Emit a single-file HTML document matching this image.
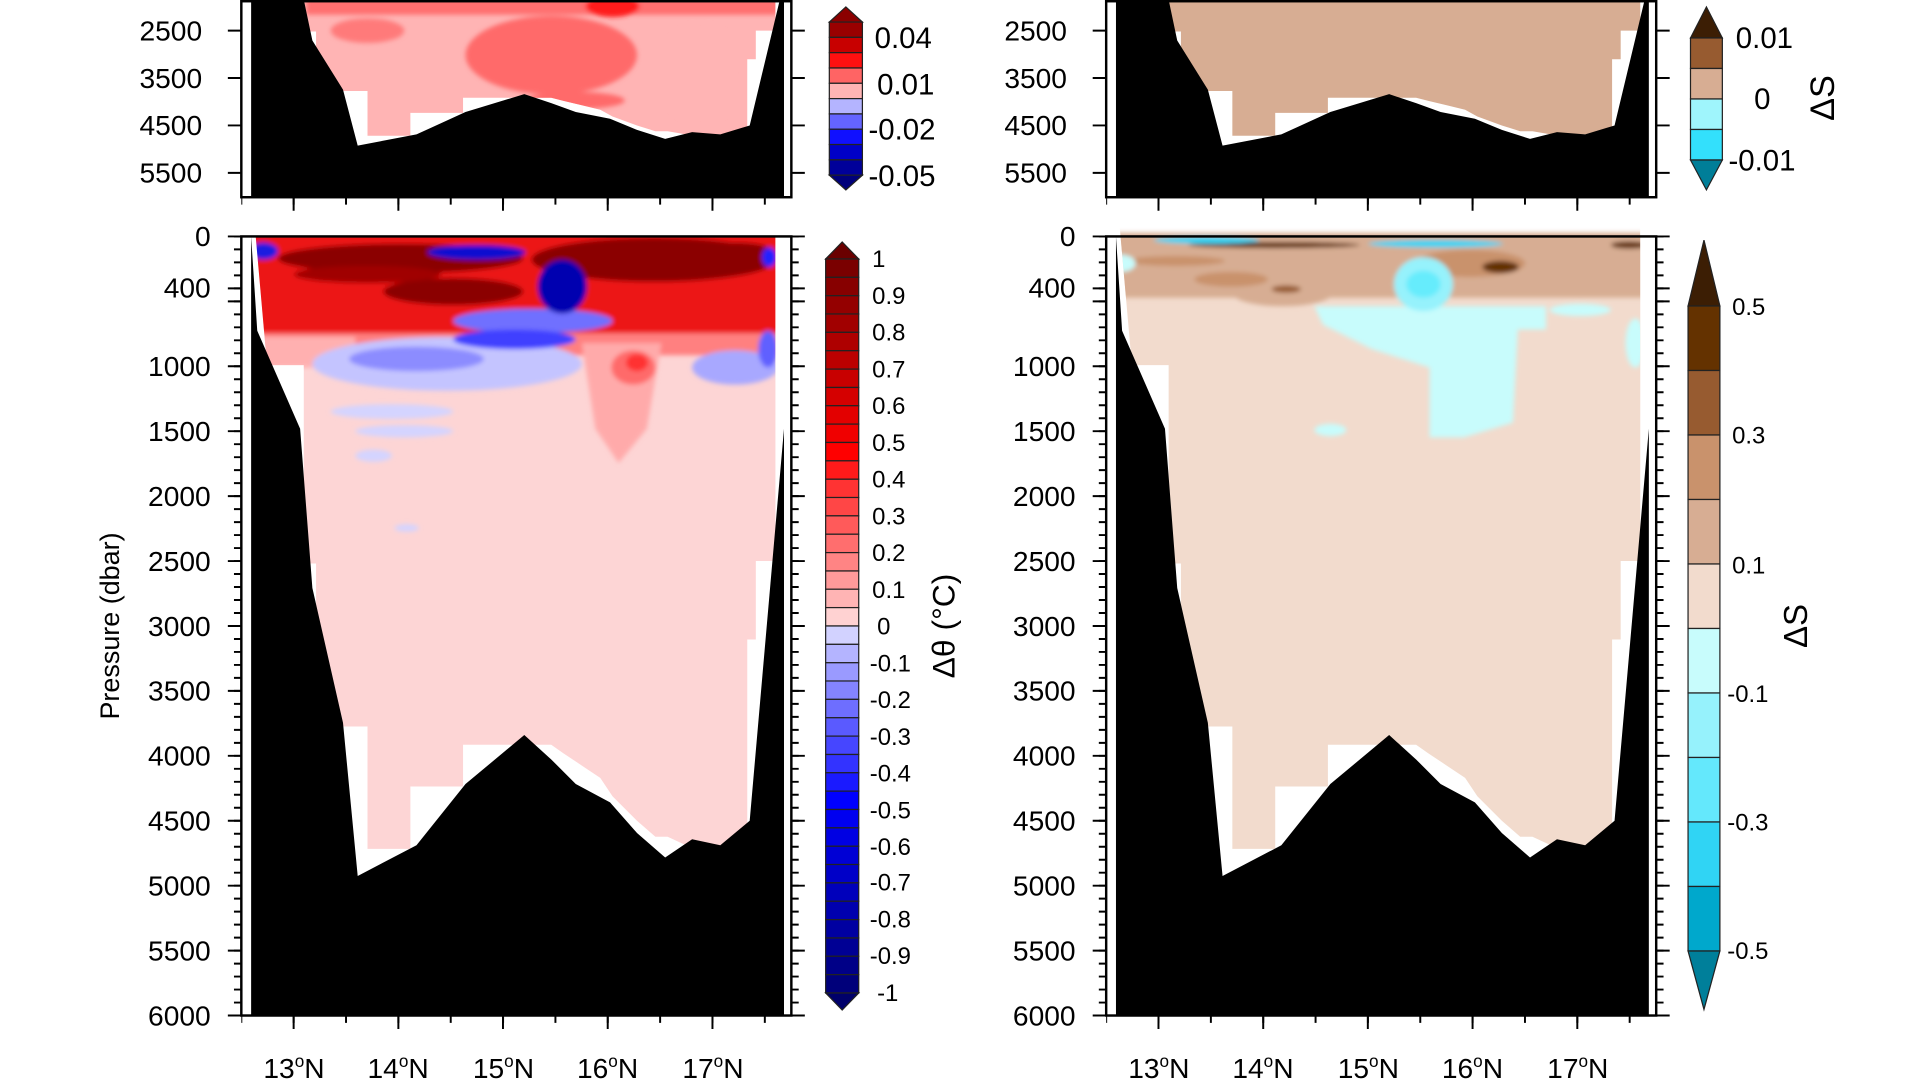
<!DOCTYPE html>
<html><head><meta charset="utf-8"><style>
html,body{margin:0;padding:0;background:#fff;width:1920px;height:1080px;overflow:hidden}
svg{display:block}
text{font-family:"Liberation Sans",Arial,sans-serif;fill:#000}
</style></head><body>
<svg width="1920" height="1080" viewBox="0 0 1567.35 881.63" preserveAspectRatio="none" xmlns="http://www.w3.org/2000/svg">
<defs>
<path id="bathy" d="M205,0 L210,726 L245,1481 L255,2708 L280,3745 L292,4925 L340,4689 L380,4217 L428,3840 L450,4028 L470,4217 L498,4358 L520,4594 L543,4783 L565,4642 L588,4689 L612,4500 L640,1481 L640,6800 L205,6800 Z"/>
<path id="data" d="M205,-400 L633,-400 L633,2500 L617,2500 L617,3104 L610,3104 L610,4689 L560,4689 L545,4623 L535,4623 L520,4500 L500,4311 L490,4170 L475,4075 L460,3981 L450,3915 L378,3915 L378,4236 L335,4236 L335,4717 L300,4717 L300,3774 L258,3774 L258,2519 L248,2519 L248,991 L218,991 Z"/>
<clipPath id="cb"><rect x="197" y="193" width="449" height="636"/></clipPath>
<clipPath id="ct"><rect x="197" y="1" width="449" height="160"/></clipPath>
<clipPath id="cbd"><use href="#data" transform="matrix(1 0 0 0.106 0 193)"/></clipPath>
<clipPath id="cbd2"><use href="#data" transform="matrix(1 0 0 0.106 706 193)"/></clipPath>
<clipPath id="ctd"><use href="#data" transform="matrix(1 0 0 0.0387 0 -71.75)"/></clipPath>
<filter id="bl" x="-10%" y="-10%" width="120%" height="120%"><feGaussianBlur stdDeviation="2"/></filter>
</defs>

<!-- ===== Bottom-left ===== -->
<g clip-path="url(#cb)">
<use href="#data" transform="matrix(1 0 0 0.106 0 193)" fill="#fdd5d5"/>
<g clip-path="url(#cbd)"><g filter="url(#bl)">
<rect x="200" y="190" width="440" height="85" fill="#ec1212"/>
<rect x="200" y="272" width="440" height="18" fill="#ff8080"/>
<rect x="205" y="275" width="85" height="25" fill="#ffb0b0"/>
<ellipse cx="327" cy="211" rx="100" ry="12" fill="#8b0000"/>
<ellipse cx="370" cy="238" rx="57" ry="11" fill="#8b0000"/>
<ellipse cx="300" cy="224" rx="60" ry="7" fill="#a00000"/>
<ellipse cx="534" cy="212" rx="100" ry="18" fill="#8b0000"/>
<ellipse cx="600" cy="206" rx="33" ry="8" fill="#8b0000"/>
<ellipse cx="389" cy="206" rx="40" ry="6" fill="#1010d0"/>
<ellipse cx="215" cy="205" rx="12" ry="7" fill="#1a1ae0"/>
<ellipse cx="628" cy="210" rx="6" ry="8" fill="#2020ff"/>
<ellipse cx="365" cy="297" rx="110" ry="22" fill="#c4c4ff"/>
<ellipse cx="340" cy="293" rx="55" ry="10" fill="#8c8cff"/>
<ellipse cx="435" cy="262" rx="65" ry="10" fill="#7070ff"/>
<ellipse cx="420" cy="277" rx="50" ry="8" fill="#4040ff"/>
<ellipse cx="459" cy="234" rx="20" ry="22" fill="#0000b0"/>
<ellipse cx="600" cy="300" rx="35" ry="14" fill="#a8a8ff"/>
<ellipse cx="627" cy="285" rx="8" ry="15" fill="#6060ff"/>
<polygon points="475,280 540,280 528,350 505,378 486,350" fill="#ffaaaa"/>
<ellipse cx="517" cy="300" rx="18" ry="14" fill="#ff6a6a"/>
<ellipse cx="520" cy="296" rx="9" ry="7" fill="#ff3030"/>
<ellipse cx="320" cy="336" rx="50" ry="6" fill="#d4d4ff"/>
<ellipse cx="330" cy="352" rx="40" ry="5" fill="#d4d4ff"/>
<ellipse cx="305" cy="372" rx="15" ry="5" fill="#d4d4ff"/>
<ellipse cx="332" cy="431" rx="10" ry="3" fill="#d4d4ff"/>
</g></g>
<use href="#bathy" transform="matrix(1 0 0 0.106 0 193)" fill="#000"/>
</g>

<!-- ===== Top-left ===== -->
<g clip-path="url(#ct)">
<use href="#data" transform="matrix(1 0 0 0.0387 0 -71.75)" fill="#ffb4b4"/>
<g clip-path="url(#ctd)"><g filter="url(#bl)">
<rect x="250" y="-5" width="385" height="17" fill="#ff7070"/>
<ellipse cx="450" cy="45" rx="70" ry="32" fill="#ff6a6a"/>
<ellipse cx="470" cy="82" rx="40" ry="7" fill="#ff6a6a"/>
<ellipse cx="300" cy="25" rx="30" ry="10" fill="#ff7a7a"/>
<ellipse cx="500" cy="5" rx="22" ry="9" fill="#ff1c1c"/>
<ellipse cx="572" cy="60" rx="35" ry="40" fill="#ffb4b4"/>
</g></g>
<use href="#bathy" transform="matrix(1 0 0 0.0387 0 -71.75)" fill="#000"/>
</g>

<!-- ===== Bottom-right ===== -->
<g transform="translate(706 0)">
<g clip-path="url(#cb)">
<use href="#data" transform="matrix(1 0 0 0.106 0 193)" fill="#f2dbcd"/>
</g>
</g>
<g clip-path="url(#cbd2)"><g filter="url(#bl)">
<rect x="905" y="190" width="440" height="53" fill="#d7ad93"/>
<ellipse cx="1047" cy="240" rx="40" ry="10" fill="#d7ad93"/>
<ellipse cx="960" cy="213" rx="40" ry="4" fill="#c9926c"/>
<ellipse cx="1005" cy="228" rx="30" ry="6" fill="#c9926c"/>
<ellipse cx="1050" cy="236" rx="12" ry="3" fill="#975b30"/>
<ellipse cx="1200" cy="215" rx="45" ry="11" fill="#c9926c"/>
<ellipse cx="1040" cy="200" rx="70" ry="2.5" fill="#643200"/>
<ellipse cx="1225" cy="218" rx="15" ry="5" fill="#643200"/>
<ellipse cx="1330" cy="200" rx="15" ry="3" fill="#643200"/>
<ellipse cx="985" cy="196" rx="43" ry="3" fill="#30d4f4"/>
<ellipse cx="1172" cy="199" rx="55" ry="3" fill="#30d4f4"/>
<polygon points="1073,250 1262,250 1262,269 1239,269 1235,345 1195,357 1167,357 1167,300 1120,285 1080,265" fill="#c8fcfc"/>
<ellipse cx="1162" cy="232" rx="24" ry="22" fill="#96f2fc"/>
<ellipse cx="1162" cy="232" rx="14" ry="11" fill="#66ecfc"/>
<ellipse cx="1086" cy="351" rx="13" ry="5" fill="#c8fcfc"/>
<ellipse cx="1335" cy="280" rx="8" ry="20" fill="#c8fcfc"/>
<ellipse cx="915" cy="215" rx="12" ry="7" fill="#c8fcfc"/>
<ellipse cx="1290" cy="253" rx="25" ry="5" fill="#c8fcfc"/>
</g></g>
<g transform="translate(706 0)">
<g clip-path="url(#cb)">
<use href="#bathy" transform="matrix(1 0 0 0.106 0 193)" fill="#000"/>
</g>
<g clip-path="url(#ct)">
<use href="#data" transform="matrix(1 0 0 0.0387 0 -71.75)" fill="#d7ad93"/>
<use href="#bathy" transform="matrix(1 0 0 0.0387 0 -71.75)" fill="#000"/>
</g>
</g>

<!-- ===== Axes (static) ===== -->
<g id="axL" fill="none" stroke="#000">
<rect x="197" y="193" width="449" height="636" stroke-width="2"/>
<rect x="197" y="1" width="449" height="160" stroke-width="2"/>
<!-- minor y ticks -->
<line x1="194" y1="193" x2="194" y2="830" stroke-width="6" stroke-dasharray="1.6 9" stroke-dashoffset="0.8"/>
<line x1="649" y1="193" x2="649" y2="830" stroke-width="6" stroke-dasharray="1.6 9" stroke-dashoffset="0.8"/>
<!-- major y ticks -->
<path stroke-width="1.6" d="M186,193H197M186,235.4H197M186,246H197M186,299H197M186,352H197M186,405H197M186,458H197M186,511H197M186,564H197M186,617H197M186,670H197M186,723H197M186,776H197M186,829H197
M646,193H657M646,235.4H657M646,246H657M646,299H657M646,352H657M646,405H657M646,458H657M646,511H657M646,564H657M646,617H657M646,670H657M646,723H657M646,776H657M646,829H657
M186,25H197M186,63.7H197M186,102.4H197M186,141.1H197M646,25H657M646,63.7H657M646,102.4H657M646,141.1H657
M239.7,829V840M325.2,829V840M410.6,829V840M496.1,829V840M581.6,829V840
M239.7,161V172M325.2,161V172M410.6,161V172M496.1,161V172M581.6,161V172"/>
<!-- minor x ticks -->
<line x1="197" y1="832" x2="647" y2="832" stroke-width="6" stroke-dasharray="1.6 41.135" stroke-dashoffset="0.8"/>
<line x1="197" y1="164" x2="647" y2="164" stroke-width="6" stroke-dasharray="1.6 41.135" stroke-dashoffset="0.8"/>
</g>
<use href="#axL" transform="translate(706 0)"/>

<!-- ===== Colorbars ===== -->
<g stroke="#222" stroke-width="1">
<polygon points="674,211.4 687.5,197.6 701,211.4" fill="#6a0000"/>
<g transform="translate(674 0)">
<rect y="211.4" width="27" height="15" fill="#7a0000"/><rect y="226.4" width="27" height="15" fill="#870000"/><rect y="241.4" width="27" height="15" fill="#940000"/><rect y="256.3" width="27" height="15" fill="#a10000"/><rect y="271.3" width="27" height="15" fill="#ae0000"/><rect y="286.3" width="27" height="15" fill="#bb0000"/><rect y="301.3" width="27" height="15" fill="#c80000"/><rect y="316.3" width="27" height="15" fill="#d50000"/><rect y="331.2" width="27" height="15" fill="#e30000"/><rect y="346.2" width="27" height="15" fill="#f00000"/>
<rect y="361.2" width="27" height="15" fill="#ff0000"/><rect y="376.2" width="27" height="15" fill="#ff1a1a"/><rect y="391.2" width="27" height="15" fill="#ff3333"/><rect y="406.1" width="27" height="15" fill="#ff4646"/><rect y="421.1" width="27" height="15" fill="#ff5a5a"/><rect y="436.1" width="27" height="15" fill="#ff6e6e"/><rect y="451.1" width="27" height="15" fill="#ff8484"/><rect y="466.1" width="27" height="15" fill="#ff9a9a"/><rect y="481.0" width="27" height="15" fill="#ffb4b4"/><rect y="496.0" width="27" height="15" fill="#ffd2d2"/>
<rect y="511.0" width="27" height="15" fill="#d2d2ff"/><rect y="526.0" width="27" height="15" fill="#b4b4ff"/><rect y="541.0" width="27" height="15" fill="#9a9aff"/><rect y="555.9" width="27" height="15" fill="#8484ff"/><rect y="570.9" width="27" height="15" fill="#6e6eff"/><rect y="585.9" width="27" height="15" fill="#5a5aff"/><rect y="600.9" width="27" height="15" fill="#4646ff"/><rect y="615.9" width="27" height="15" fill="#3333ff"/><rect y="630.8" width="27" height="15" fill="#1a1aff"/><rect y="645.8" width="27" height="15" fill="#0000ff"/>
<rect y="660.8" width="27" height="15" fill="#0000f0"/><rect y="675.8" width="27" height="15" fill="#0000e3"/><rect y="690.8" width="27" height="15" fill="#0000d5"/><rect y="705.7" width="27" height="15" fill="#0000c8"/><rect y="720.7" width="27" height="15" fill="#0000bb"/><rect y="735.7" width="27" height="15" fill="#0000ae"/><rect y="750.7" width="27" height="15" fill="#0000a1"/><rect y="765.7" width="27" height="15" fill="#000094"/><rect y="780.6" width="27" height="15" fill="#000087"/><rect y="795.6" width="27" height="15" fill="#00007a"/>
</g>
<polygon points="674,810.6 687.5,824.5 701,810.6" fill="#00006a"/>

<polygon points="1378,249.8 1391,196 1404,249.8" fill="#3c1e04"/>
<g transform="translate(1378 0)">
<rect y="249.8" width="26" height="52.65" fill="#643200"/><rect y="302.45" width="26" height="52.65" fill="#975b30"/><rect y="355.1" width="26" height="52.65" fill="#c9926c"/><rect y="407.75" width="26" height="52.65" fill="#d7ad93"/><rect y="460.4" width="26" height="52.65" fill="#f2dbcd"/>
<rect y="513.05" width="26" height="52.65" fill="#c8fcfc"/><rect y="565.7" width="26" height="52.65" fill="#96f2fc"/><rect y="618.35" width="26" height="52.65" fill="#64e8fc"/><rect y="671" width="26" height="52.65" fill="#30d4f4"/><rect y="723.65" width="26" height="52.65" fill="#00a8cc"/>
</g>
<polygon points="1378,776.3 1391,824 1404,776.3" fill="#007f9a"/>

<polygon points="677,18 690.5,5.7 704,18" fill="#8b0000"/>
<g transform="translate(677 0)">
<rect y="18" width="27" height="12.5" fill="#990000"/><rect y="30.5" width="27" height="12.5" fill="#c80000"/><rect y="43" width="27" height="12.5" fill="#ff1010"/><rect y="55.5" width="27" height="12.5" fill="#ff6464"/><rect y="68" width="27" height="12.5" fill="#ffb4b4"/>
<rect y="80.5" width="27" height="12.5" fill="#b4b4ff"/><rect y="93" width="27" height="12.5" fill="#6464ff"/><rect y="105.5" width="27" height="12.5" fill="#1010ff"/><rect y="118" width="27" height="12.5" fill="#0000c8"/><rect y="130.5" width="27" height="12.5" fill="#000099"/>
</g>
<polygon points="677,143 690.5,155 704,143" fill="#00007a"/>

<polygon points="1380,31 1393,5.7 1406,31" fill="#3c1e04"/>
<g transform="translate(1380 0)">
<rect y="31" width="26" height="24.9" fill="#975b30"/><rect y="55.9" width="26" height="24.9" fill="#d7ad93"/><rect y="80.8" width="26" height="24.9" fill="#9ff5fc"/><rect y="105.7" width="26" height="24.9" fill="#33e0fc"/>
</g>
<polygon points="1380,130.6 1393,155 1406,130.6" fill="#007e98"/>
</g>

<!-- y labels -->
<g font-size="23" text-anchor="end">
<text x="172" y="201">0</text><text x="172" y="243">400</text><text x="172" y="307">1000</text><text x="172" y="360">1500</text><text x="172" y="413">2000</text><text x="172" y="466">2500</text><text x="172" y="519">3000</text><text x="172" y="572">3500</text><text x="172" y="625">4000</text><text x="172" y="678">4500</text><text x="172" y="731">5000</text><text x="172" y="784">5500</text><text x="172" y="837">6000</text>
<text x="878" y="201">0</text><text x="878" y="243">400</text><text x="878" y="307">1000</text><text x="878" y="360">1500</text><text x="878" y="413">2000</text><text x="878" y="466">2500</text><text x="878" y="519">3000</text><text x="878" y="572">3500</text><text x="878" y="625">4000</text><text x="878" y="678">4500</text><text x="878" y="731">5000</text><text x="878" y="784">5500</text><text x="878" y="837">6000</text>
<text x="165" y="33">2500</text><text x="165" y="72">3500</text><text x="165" y="110">4500</text><text x="165" y="149">5500</text>
<text x="871" y="33">2500</text><text x="871" y="72">3500</text><text x="871" y="110">4500</text><text x="871" y="149">5500</text>
</g>
<!-- x labels -->
<g font-size="23" text-anchor="middle">
<text x="240" y="880">13<tspan dy="-9" font-size="14">o</tspan><tspan dy="9">N</tspan></text>
<text x="325" y="880">14<tspan dy="-9" font-size="14">o</tspan><tspan dy="9">N</tspan></text>
<text x="411" y="880">15<tspan dy="-9" font-size="14">o</tspan><tspan dy="9">N</tspan></text>
<text x="496" y="880">16<tspan dy="-9" font-size="14">o</tspan><tspan dy="9">N</tspan></text>
<text x="582" y="880">17<tspan dy="-9" font-size="14">o</tspan><tspan dy="9">N</tspan></text>
<text x="946" y="880">13<tspan dy="-9" font-size="14">o</tspan><tspan dy="9">N</tspan></text>
<text x="1031" y="880">14<tspan dy="-9" font-size="14">o</tspan><tspan dy="9">N</tspan></text>
<text x="1117" y="880">15<tspan dy="-9" font-size="14">o</tspan><tspan dy="9">N</tspan></text>
<text x="1202" y="880">16<tspan dy="-9" font-size="14">o</tspan><tspan dy="9">N</tspan></text>
<text x="1288" y="880">17<tspan dy="-9" font-size="14">o</tspan><tspan dy="9">N</tspan></text>
</g>
<text font-size="22" text-anchor="middle" transform="translate(97 511) rotate(-90)">Pressure (dbar)</text>
<text font-size="26" text-anchor="middle" transform="translate(779 511) rotate(-90)">Δθ (°C)</text>
<text font-size="27" text-anchor="middle" transform="translate(1475 511) rotate(-90)">ΔS</text>
<text font-size="28" text-anchor="middle" transform="translate(1497 80) rotate(-90)">ΔS</text>

<!-- colorbar labels -->
<g font-size="19.5">
<text x="712" y="218">1</text><text x="712" y="248">0.9</text><text x="712" y="278">0.8</text><text x="712" y="308">0.7</text><text x="712" y="338">0.6</text><text x="712" y="368">0.5</text><text x="712" y="398">0.4</text><text x="712" y="428">0.3</text><text x="712" y="458">0.2</text><text x="712" y="488">0.1</text><text x="716" y="518">0</text>
<text x="710" y="548">-0.1</text><text x="710" y="578">-0.2</text><text x="710" y="608">-0.3</text><text x="710" y="638">-0.4</text><text x="710" y="668">-0.5</text><text x="710" y="698">-0.6</text><text x="710" y="727">-0.7</text><text x="710" y="757">-0.8</text><text x="710" y="787">-0.9</text><text x="716" y="817">-1</text>
<text x="1414" y="257">0.5</text><text x="1414" y="362">0.3</text><text x="1414" y="468">0.1</text><text x="1410" y="573">-0.1</text><text x="1410" y="678">-0.3</text><text x="1410" y="783">-0.5</text>
</g>
<g font-size="24">
<text x="714" y="39">0.04</text><text x="716" y="77">0.01</text><text x="709" y="114">-0.02</text><text x="709" y="152">-0.05</text>
<text x="1417" y="39">0.01</text><text x="1432" y="89">0</text><text x="1411" y="139">-0.01</text>
</g>
</svg>
</body></html>
